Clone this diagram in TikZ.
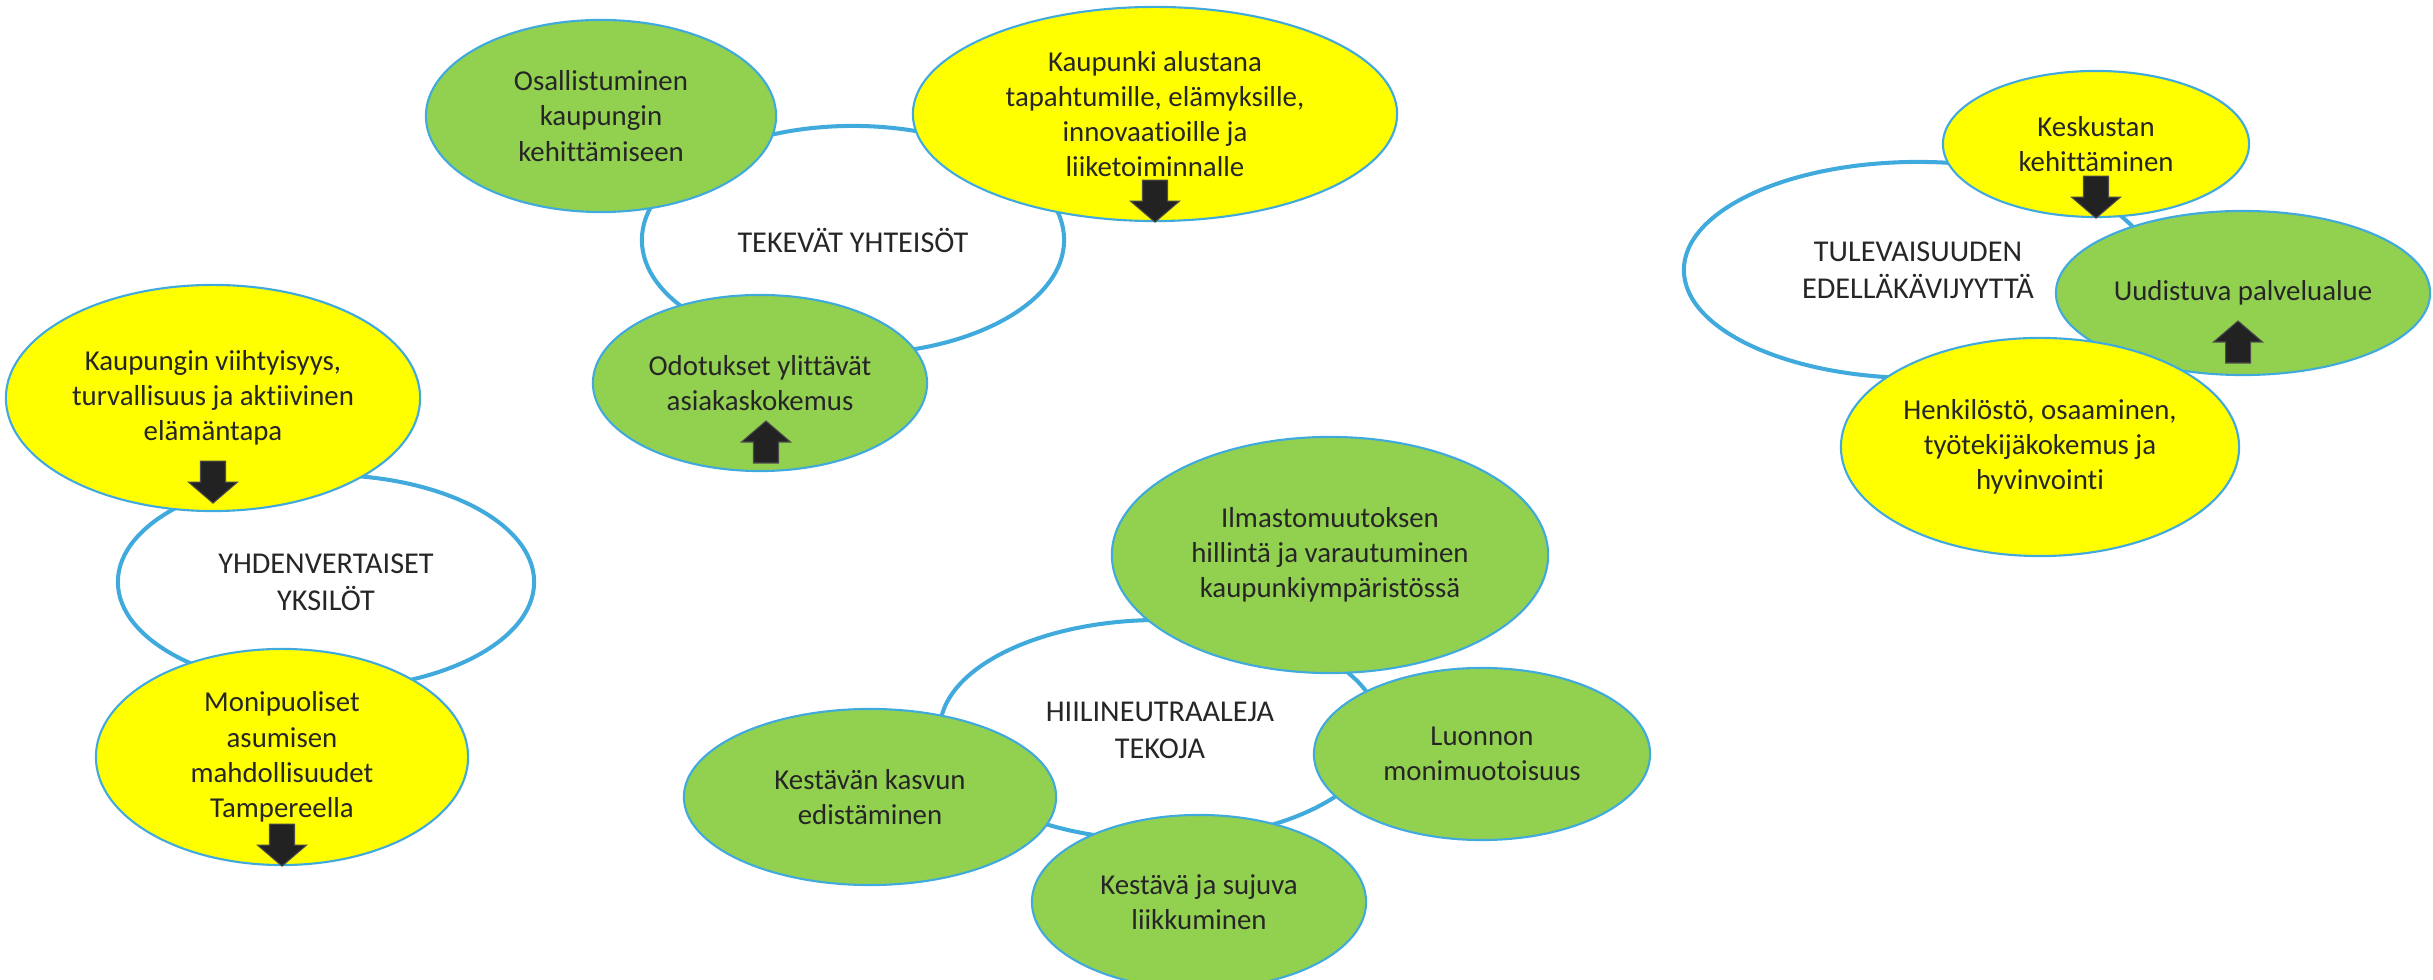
\documentclass[tikz,border=0pt]{standalone}
\usepackage{fontspec}
\setmainfont[Ligatures=NoCommon]{Carlito}
\usepackage{tikz}
\usetikzlibrary{shapes}
\definecolor{ringblue}{RGB}{65,170,220}
\definecolor{leafgreen}{RGB}{146,208,80}
\definecolor{sunyellow}{RGB}{255,255,0}
\definecolor{inkgray}{RGB}{38,38,38}
\definecolor{arrowdark}{RGB}{34,34,34}
\tikzstyle{theme} = [ellipse, draw=ringblue, line width=1.15pt, fill=white, text=inkgray, align=center, inner sep=0pt, font=\fontsize{8.6}{10.5}\selectfont]
\tikzstyle{ball} = [ellipse, draw=ringblue, line width=0.6pt, text=inkgray, align=center, inner sep=0pt, font=\fontsize{8.2}{10}\selectfont]
\tikzstyle{greenball} = [ball, fill=leafgreen]
\tikzstyle{yellowball} = [ball, fill=sunyellow]
\tikzstyle{blockarrow} = [fill=arrowdark, draw=black!70, line width=0.3pt]
\tikzset{
  bigdown/.pic={\filldraw[blockarrow] (-12.5,-42) -- (12.5,-42) -- (12.5,-21) -- (24.5,-21) -- (0,0) -- (-24.5,-21) -- (-12.5,-21) -- cycle;},
  bigup/.pic={\filldraw[blockarrow] (-12.5,42) -- (12.5,42) -- (12.5,21) -- (24.5,21) -- (0,0) -- (-24.5,21) -- (-12.5,21) -- cycle;}
}

\begin{document}
\begin{tikzpicture}[x=0.01cm, y=-0.01cm]
    \useasboundingbox (0,0) rectangle (2433,980);
    \clip (0,0) rectangle (2433,980);

    % teemat
    \node[theme, minimum width=4.22cm, minimum height=2.28cm] (tekevat) at (853,240) {TEKEVÄT YHTEISÖT};
    \node[theme, minimum width=4.16cm, minimum height=2.14cm] (yhdenv) at (326,582) {YHDENVERTAISET\\YKSILÖT};
    \node[theme, minimum width=4.68cm, minimum height=2.16cm] (tulev) at (1918,270) {TULEVAISUUDEN\\EDELLÄKÄVIJYYTTÄ};
    \node[theme, minimum width=4.40cm, minimum height=2.20cm] (hiili) at (1160,730) {HIILINEUTRAALEJA\\TEKOJA};

    % tavoitteet
    \node[greenball, minimum width=3.50cm, minimum height=1.92cm] (osall) at (601,116) {Osallistuminen\\kaupungin\\kehittämiseen};
    \node[yellowball, minimum width=4.84cm, minimum height=2.14cm] (alusta) at (1155,114) {Kaupunki alustana\\tapahtumille, elämyksille,\\innovaatioille ja\\liiketoiminnalle};
    \node[greenball, minimum width=3.34cm, minimum height=1.76cm] (odotus) at (760,383) {Odotukset ylittävät\\asiakaskokemus};
    \node[yellowball, minimum width=4.14cm, minimum height=2.26cm] (viiht) at (213,398) {Kaupungin viihtyisyys,\\turvallisuus ja aktiivinen\\elämäntapa};
    \node[yellowball, minimum width=3.72cm, minimum height=2.16cm] (asumis) at (282,757) {Monipuoliset\\asumisen\\mahdollisuudet\\Tampereella};
    \node[greenball, minimum width=4.36cm, minimum height=2.36cm] (ilmasto) at (1330,555) {Ilmastomuutoksen\\hillintä ja varautuminen\\kaupunkiympäristössä};
    \node[greenball, minimum width=3.72cm, minimum height=1.76cm] (kasvu) at (870,797) {Kestävän kasvun\\edistäminen};
    \node[greenball, minimum width=3.36cm, minimum height=1.72cm] (luonto) at (1482,754) {Luonnon\\monimuotoisuus};
    \node[greenball, minimum width=3.34cm, minimum height=1.74cm] (liikku) at (1199,902) {Kestävä ja sujuva\\liikkuminen};
    \node[yellowball, minimum width=3.06cm, minimum height=1.46cm] (keskus) at (2096,144) {Keskustan\\kehittäminen};
    \node[greenball, minimum width=3.74cm, minimum height=1.64cm] (uudist) at (2243,293) {Uudistuva palvelualue};
    \node[yellowball, minimum width=3.98cm, minimum height=2.18cm] (henkil) at (2040,447) {Henkilöstö, osaaminen,\\työtekijäkokemus ja\\hyvinvointi};

    % nuolet
    \pic at (alusta.south) {bigdown};
    \pic at (keskus.south) {bigdown};
    \pic at ([yshift=0.09cm]viiht.south) {bigdown};
    \pic at (asumis.south) {bigdown};
    \pic at (766,421) {bigup};
    \pic at (2238,321) {bigup};
\end{tikzpicture}
\end{document}
